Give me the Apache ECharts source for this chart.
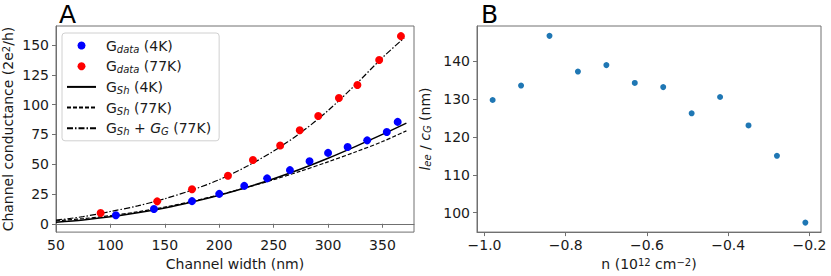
<!DOCTYPE html>
<html>
<head>
<meta charset="utf-8">
<script src="https://cdn.jsdelivr.net/npm/echarts@6/dist/echarts.min.js"></script>
<style>
html,body{margin:0;padding:0;background:#fff;}
#chart{width:831px;height:276px;}
</style>
</head>
<body>
<div id="chart"></div>
<script>
// ---- Panel A data ----
const widths4K = [105, 140, 175, 200, 223, 244, 265, 283, 300, 318, 336, 354, 364];
const gData4K = [7.2, 12.4, 19.0, 25.1, 31.8, 38.1, 45.0, 52.5, 59.5, 64.5, 70.0, 77.0, 85.5];
const widths77K = [91, 143, 175, 208, 231, 256, 274, 291, 310, 327, 347, 367];
const gData77K = [9.1, 18.8, 29.0, 40.3, 53.5, 65.7, 78.5, 90.5, 105.5, 116.5, 137.5, 157.5];
const fitW = [50, 75, 100, 125, 150, 175, 200, 225, 250, 275, 300, 325, 350, 372];
const gSh4K = [1.3, 3.2, 5.8, 9.2, 13.3, 18.3, 24.0, 30.5, 37.8, 46.0, 55.0, 64.8, 75.0, 84.5];
const gSh77K = [2.5, 4.3, 6.8, 10.0, 14.0, 18.8, 24.3, 30.4, 37.0, 44.2, 52.0, 60.2, 69.0, 78.0];
const fitW2 = [50, 75, 100, 125, 150, 175, 200, 225, 250, 275, 300, 325, 350, 370];
const gShG77K = [3.0, 6.0, 10.3, 15.0, 21.0, 28.3, 37.0, 48.0, 61.0, 76.5, 95.0, 116.5, 139.5, 156.0];
const xTicksA = [50, 100, 150, 200, 250, 300, 350];
const yTicksA = [0, 25, 50, 75, 100, 125, 150];

// ---- Panel B data ----
const densityN = [-0.98, -0.91, -0.84, -0.77, -0.70, -0.63, -0.56, -0.49, -0.42, -0.35, -0.28, -0.21];
const leeOverCG = [129.7, 133.5, 146.6, 137.2, 138.9, 134.2, 133.1, 126.2, 130.5, 123.0, 115.0, 97.4];
const xTicksB = [-1.0, -0.8, -0.6, -0.4, -0.2];
const yTicksB = [100, 110, 120, 130, 140];

const zip = (a, b) => a.map((v, i) => [v, b[i]]);
const FONT = 'DejaVu Sans';
const FS = 14;
const FRAME = '#707070';
const TXT = '#1a1a1a';
const minusFmt = v => (v < 0 ? '\u2212' : '') + Math.abs(v).toFixed(1);

const subRich = {
  sub: {fontSize: 10, fontStyle: 'italic', fontFamily: FONT, color: TXT, verticalAlign: 'bottom', lineHeight: 12},
  it: {fontSize: FS, fontStyle: 'italic', fontFamily: FONT, color: TXT},
  sup: {fontSize: 10, fontFamily: FONT, color: TXT, verticalAlign: 'top', lineHeight: 12}
};

function valAxis(extra) {
  return Object.assign({
    type: 'value',
    axisLine: {show: true, lineStyle: {color: FRAME, width: 1}},
    splitLine: {show: false},
    nameLocation: 'middle',
    nameTextStyle: {fontFamily: FONT, fontSize: FS, color: TXT, rich: subRich}
  }, extra);
}
const tick = vals => ({show: true, length: 4, inside: false, lineStyle: {color: FRAME}, customValues: vals});
const hideSym = {color: 'rgba(0,0,0,0)', opacity: 0, borderWidth: 0};

const chart = echarts.init(document.getElementById('chart'), null, {renderer: 'svg'});
chart.setOption({
  animation: false,
  backgroundColor: '#fff',
  title: [
    {text: 'A', left: 59, top: 2, padding: 0, textStyle: {fontFamily: FONT, fontSize: 25, fontWeight: 'normal', color: '#000', lineHeight: 25}},
    {text: 'B', left: 481, top: 2, padding: 0, textStyle: {fontFamily: FONT, fontSize: 25, fontWeight: 'normal', color: '#000', lineHeight: 25}}
  ],
  grid: [
    {left: 54, top: 26, width: 360, height: 210, show: true, borderColor: FRAME, borderWidth: 1, containLabel: false},
    {left: 477, top: 26, width: 344, height: 211, show: true, borderColor: FRAME, borderWidth: 1, containLabel: false}
  ],
  xAxis: [
    valAxis({gridIndex: 0, min: 50, max: 379, name: 'Channel width (nm)', nameGap: 24, axisTick: tick(xTicksA),
      axisLabel: {fontFamily: FONT, fontSize: FS, color: TXT, margin: 6, customValues: xTicksA}}),
    valAxis({gridIndex: 1, min: -1.0185, max: -0.1715, name: 'n (10{sup|12} cm{sup|\u22122})', nameGap: 24, axisTick: tick(xTicksB),
      axisLabel: {fontFamily: FONT, fontSize: FS, color: TXT, margin: 6, customValues: xTicksB, formatter: minusFmt}})
  ],
  yAxis: [
    valAxis({gridIndex: 0, min: -7, max: 166, name: 'Channel conductance (2e{sup|2}/h)', nameGap: 41, nameRotate: 90, axisTick: tick(yTicksA),
      axisLabel: {fontFamily: FONT, fontSize: FS, color: TXT, margin: 7, customValues: yTicksA}}),
    valAxis({gridIndex: 1, min: 94.9, max: 149.2, name: '{it|l}{sub|ee} / {it|c}{sub|G} (nm)', nameGap: 45, nameRotate: 90, axisTick: tick(yTicksB),
      axisLabel: {fontFamily: FONT, fontSize: FS, color: TXT, margin: 7, customValues: yTicksB}})
  ],
  legend: {
    left: 62, top: 33, orient: 'vertical',
    itemWidth: 29, itemHeight: 8, itemGap: 3.7,
    backgroundColor: '#fff', borderColor: '#d0d0d0', borderWidth: 1, borderRadius: 3,
    padding: [4, 8, 4, 4],
    textStyle: {fontFamily: FONT, fontSize: FS, color: TXT, lineHeight: 17, padding: [0, 0, 0, 5], rich: subRich},
    data: [
      {name: 'G{sub|data} (4K)'},
      {name: 'G{sub|data} (77K)'},
      {name: 'G{sub|Sh} (4K)', itemStyle: hideSym},
      {name: 'G{sub|Sh} (77K)', itemStyle: hideSym},
      {name: 'G{sub|Sh} + {it|G}{sub|G} (77K)', itemStyle: hideSym}
    ]
  },
  series: [
    {name: 'G{sub|Sh} (4K)', type: 'line', xAxisIndex: 0, yAxisIndex: 0, data: zip(fitW, gSh4K), showSymbol: false, symbol: 'none', smooth: 0.3,
      lineStyle: {color: '#000', width: 1.5, type: 'solid'}, itemStyle: {color: '#000'}, z: 2},
    {name: 'G{sub|Sh} (77K)', type: 'line', xAxisIndex: 0, yAxisIndex: 0, data: zip(fitW, gSh77K), showSymbol: false, symbol: 'none', smooth: 0.3,
      lineStyle: {color: '#000', width: 1.2, type: [4, 2]}, itemStyle: {color: '#000'}, z: 2},
    {name: 'G{sub|Sh} + {it|G}{sub|G} (77K)', type: 'line', xAxisIndex: 0, yAxisIndex: 0, data: zip(fitW2, gShG77K), showSymbol: false, symbol: 'none', smooth: 0.3,
      lineStyle: {color: '#000', width: 1.2, type: [6, 2, 1.5, 2]}, itemStyle: {color: '#000'}, z: 2},
    {name: 'G{sub|data} (4K)', type: 'scatter', xAxisIndex: 0, yAxisIndex: 0, data: zip(widths4K, gData4K), symbol: 'circle', symbolSize: 8,
      itemStyle: {color: '#0000ff', opacity: 1}, z: 3},
    {name: 'G{sub|data} (77K)', type: 'scatter', xAxisIndex: 0, yAxisIndex: 0, data: zip(widths77K, gData77K), symbol: 'circle', symbolSize: 8,
      itemStyle: {color: '#ff0000', opacity: 1}, z: 3},
    {name: 'B', type: 'scatter', xAxisIndex: 1, yAxisIndex: 1, data: zip(densityN, leeOverCG), symbol: 'circle', symbolSize: 6,
      itemStyle: {color: '#1f77b4', opacity: 1}, z: 3}
  ]
});
</script>
</body>
</html>
